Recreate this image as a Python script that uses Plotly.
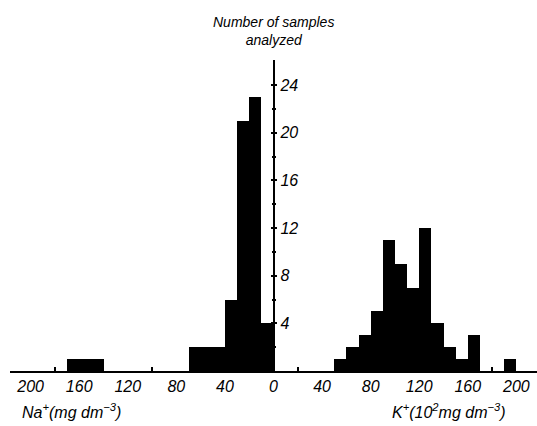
import plotly.graph_objects as go

# Na+ histogram (mg dm^-3): lower bin edges and counts (bin width 10)
na_edges = [0, 10, 20, 30, 40, 50, 60, 140, 150, 160]
na_counts = [4, 23, 21, 6, 2, 2, 2, 1, 1, 1]
# K+ histogram (10^2 mg dm^-3)
k_edges = [50, 60, 70, 80, 90, 100, 110, 120, 130, 140, 150, 160, 190]
k_counts = [1, 2, 3, 5, 11, 9, 7, 12, 4, 2, 1, 3, 1]
bin_width = 10

x_tick_vals = [-200, -160, -120, -80, -40, 0, 40, 80, 120, 160, 200]
x_tick_text = ["200", "160", "120", "80", "40", "0", "40", "80", "120", "160", "200"]
y_tick_vals = [4, 8, 12, 16, 20, 24]
y_minor_vals = [2, 6, 10, 14, 18, 22]

FONT = dict(family="Liberation Sans", color="black", style="italic")

W, H = 537, 426
ML, MR, MT, MB = 10, 0, 60, 55

fig = go.Figure()
fig.add_trace(go.Bar(
    x=[-(e + bin_width / 2) for e in na_edges], y=na_counts, width=bin_width,
    marker=dict(color="black", line=dict(width=0)), showlegend=False))
fig.add_trace(go.Bar(
    x=[e + bin_width / 2 for e in k_edges], y=k_counts, width=bin_width,
    marker=dict(color="black", line=dict(width=0)), showlegend=False))
# invisible trace to activate the second y axis (left-pointing ticks)
fig.add_trace(go.Scatter(x=[0], y=[0], yaxis="y2", mode="markers",
                         marker=dict(opacity=0), showlegend=False, hoverinfo="skip"))

plot_w = W - ML - MR
plot_h = H - MT - MB
def px_to_paper(px, py):
    return (px - ML) / plot_w, (H - MB - py) / plot_h

ax, ay = px_to_paper(20, 411)
bx, by = px_to_paper(390, 411)

fig.update_layout(
    width=W, height=H,
    margin=dict(l=ML, r=MR, t=MT, b=MB, autoexpand=False),
    paper_bgcolor="white", plot_bgcolor="white",
    bargap=0,
    font=dict(**FONT, size=15),
    xaxis=dict(range=[-217, 217], tickvals=x_tick_vals, ticktext=x_tick_text,
               showline=True, linecolor="black", linewidth=2, automargin=False,
               ticks="", showgrid=False, zeroline=False,
               tickfont=dict(**FONT, size=16),
               minor=dict(tickvals=[-180, -100, -20, 20, 100, 180], ticks="inside",
                          ticklen=4, tickcolor="black", tickwidth=1.5, showgrid=False)),
    yaxis=dict(range=[0, 26.1], anchor="free", position=0.5, side="right",
               automargin=False,
               tickvals=y_tick_vals, showline=True, linecolor="black", linewidth=1.5,
               ticks="outside", ticklen=3, tickwidth=1.5, tickcolor="black",
               showgrid=False, zeroline=False,
               tickfont=dict(**FONT, size=16),
               minor=dict(tickvals=y_minor_vals, ticks="outside", ticklen=2,
                          tickwidth=1.5, tickcolor="black", showgrid=False)),
    yaxis2=dict(range=[0, 26.1], anchor="free", position=0.5, side="left",
                overlaying="y", tickvals=y_tick_vals, showticklabels=False,
                automargin=False,
                ticks="outside", ticklen=3, tickwidth=1.5, tickcolor="black",
                showline=False, showgrid=False, zeroline=False,
                minor=dict(tickvals=y_minor_vals, ticks="outside", ticklen=2,
                           tickwidth=1.5, tickcolor="black", showgrid=False)),
    annotations=[
        dict(text="Number of samples<br>analyzed", x=0.5, y=1.0, xref="paper", yref="paper",
             xanchor="center", yanchor="bottom", yshift=10, showarrow=False,
             font=dict(**FONT, size=14)),
        dict(text="Na<sup>+</sup>(mg dm<sup>−3</sup>)", x=ax, y=ay, xref="paper", yref="paper",
             xanchor="left", yanchor="middle", showarrow=False, font=dict(**FONT, size=16)),
        dict(text="K<sup>+</sup>(10<sup>2</sup>mg dm<sup>−3</sup>)", x=bx, y=by, xref="paper",
             yref="paper", xanchor="left", yanchor="middle", showarrow=False,
             font=dict(**FONT, size=16)),
    ],
)

fig.write_html("out.html", config={"displayModeBar": False},
               post_script="document.body.style.margin='0';document.body.style.overflow='hidden';")
